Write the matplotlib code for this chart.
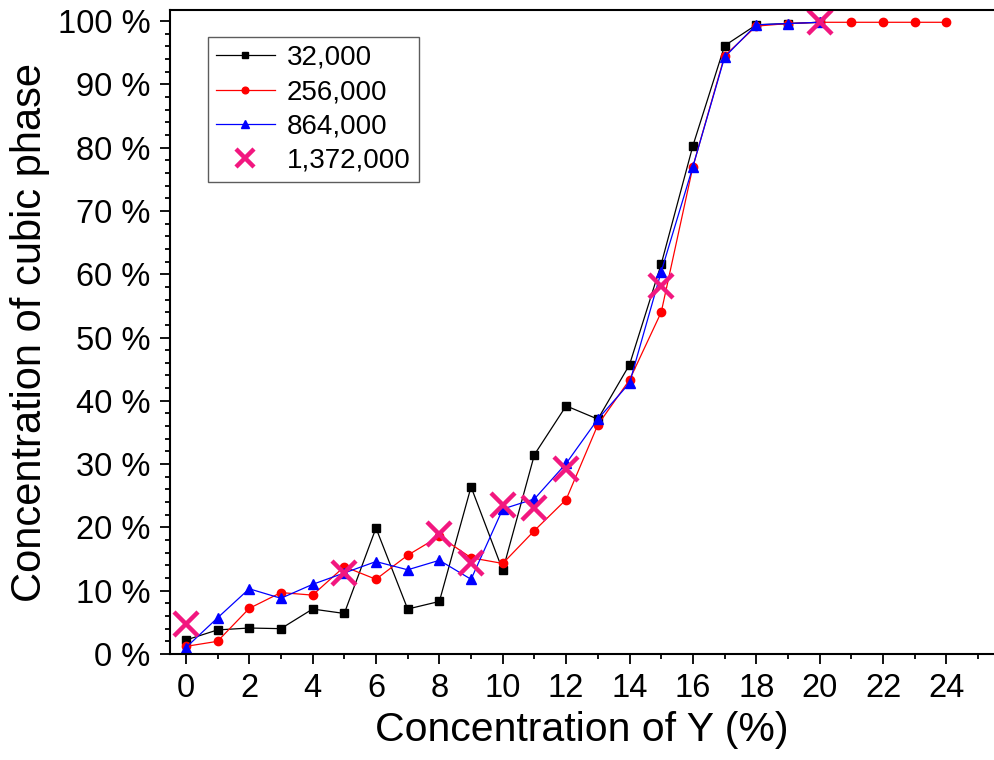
import numpy as np
import matplotlib
matplotlib.use('Agg')
import matplotlib.pyplot as plt
from matplotlib.ticker import MultipleLocator

plt.rcParams['font.family'] = ['Liberation Sans', 'DejaVu Sans']

# data (percent of cubic phase)
x_short = np.arange(0, 21)
x_long = np.arange(0, 25)
y_32k = [2.2, 3.8, 4.1, 4.0, 7.1, 6.4, 19.9, 7.1, 8.3, 26.4, 13.2, 31.5, 39.2, 37.1,
         45.7, 61.6, 80.3, 96.1, 99.4, 99.6, 99.8]
y_256k = [1.2, 2.0, 7.2, 9.7, 9.3, 13.8, 11.8, 15.6, 18.6, 15.2, 14.3, 19.5, 24.4, 36.2,
          43.3, 54.0, 77.0, 94.5, 99.2, 99.6, 99.8, 99.8, 99.8, 99.8, 99.8]
y_864k = [1.0, 5.7, 10.3, 8.8, 11.0, 12.8, 14.6, 13.3, 14.8, 11.8, 22.9, 24.5, 30.1, 37.1,
          42.8, 60.4, 77.0, 94.3, 99.4, 99.6, 99.8]
x_1372k = [0, 5, 8, 9, 10, 11, 12, 15, 20]
y_1372k = [4.8, 12.8, 19.0, 14.3, 23.5, 23.1, 29.3, 58.1, 99.8]

labels = ['32,000', '256,000', '864,000', '1,372,000']
yticks = np.arange(0, 101, 10)
yticklabels = ['%d %%' % v for v in yticks]

fig = plt.figure(figsize=(9.94, 7.6), dpi=100)
ax = fig.add_axes([0.171, 0.1395, 0.829, 0.847])

ax.plot(x_short, y_32k, color='black', lw=0.9, marker='s', ms=6, label=labels[0])
ax.plot(x_long, y_256k, color='red', lw=0.9, marker='o', ms=6, label=labels[1])
ax.plot(x_short, y_864k, color='blue', lw=0.9, marker='^', ms=7, label=labels[2])
ax.plot(x_1372k, y_1372k, ls='none', marker='x', ms=17, mew=3.2, color='#F2177F', label=labels[3])

ax.set_xlim(-0.5, 25.5)
ax.set_ylim(0, 101.7)
ax.xaxis.set_major_locator(MultipleLocator(2))
ax.xaxis.set_minor_locator(MultipleLocator(1))
ax.set_yticks(yticks)
ax.set_yticklabels(yticklabels)
ax.yaxis.set_minor_locator(MultipleLocator(2))

ax.tick_params(which='major', direction='out', length=7, width=1.3, labelsize=23.5, pad=7)
ax.tick_params(which='minor', direction='out', length=3.5, width=1.3)
ax.tick_params(top=False, right=False)
ax.spines['right'].set_visible(False)
for s in ['left', 'bottom', 'top']:
    ax.spines[s].set_linewidth(1.5)

ax.set_xlabel('Concentration of Y (%)', fontsize=29.5, labelpad=5)
ax.set_ylabel('Concentration of cubic phase', fontsize=30, labelpad=6)

leg = ax.legend(loc='upper left', bbox_to_anchor=(0.046, 0.959), borderaxespad=0,
                fontsize=20, frameon=True, fancybox=False, edgecolor='#333333',
                handlelength=2.1, handletextpad=0.45, labelspacing=0.3,
                borderpad=0.3, markerscale=0.8)
leg.get_frame().set_linewidth(1.0)

fig.savefig('out.png', dpi=100)
